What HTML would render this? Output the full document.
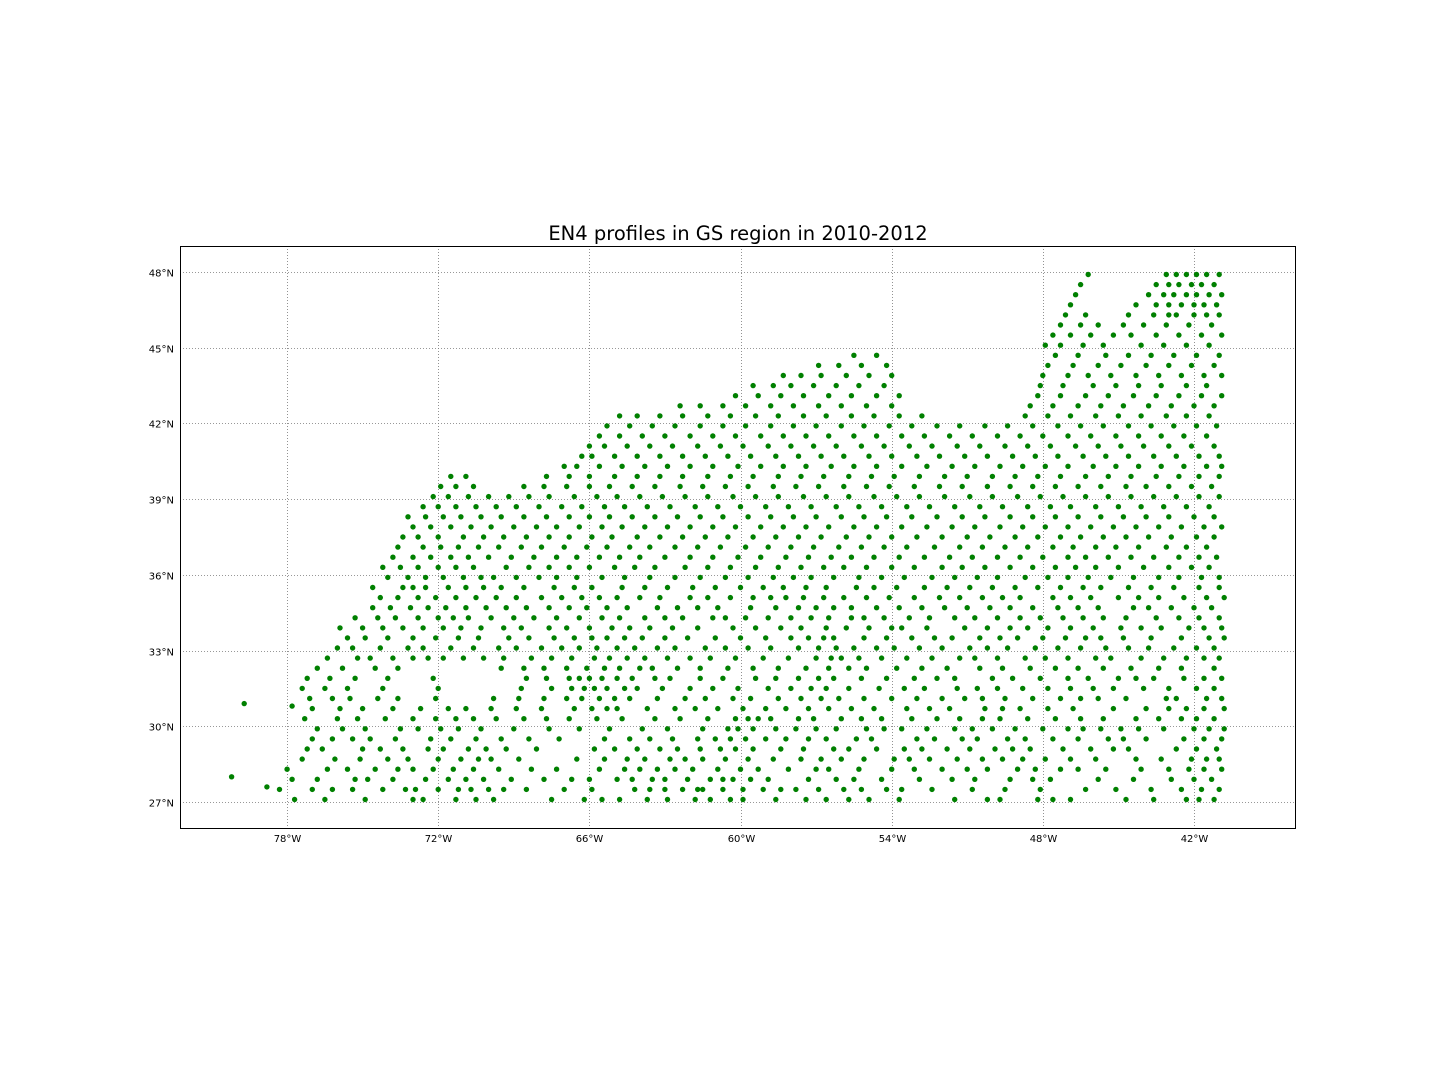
<!DOCTYPE html>
<html><head><meta charset="utf-8">
<style>
html,body{margin:0;padding:0;background:#fff;}
svg{display:block;font-family:"DejaVu Sans","Liberation Sans",sans-serif;}
</style></head>
<body>
<svg id="chart" width="1440" height="1080" xmlns="http://www.w3.org/2000/svg">
<rect width="1440" height="1080" fill="#fff"/>
<text x="738" y="240" text-anchor="middle" font-size="19.5" fill="#000">EN4 profiles in GS region in 2010-2012</text>
<g id="grid"></g>
<g id="pts"></g>
<rect x="180.5" y="246.5" width="1115" height="582" fill="none" stroke="#000" stroke-width="1"/>
<g id="ticks"></g>
</svg>
<script>
const xTickValues=[-78,-72,-66,-60,-54,-48,-42];
const xTickLabels=["78°W","72°W","66°W","60°W","54°W","48°W","42°W"];
const yTickValues=[27,30,33,36,39,42,45,48];
const yTickLabels=["27°N","30°N","33°N","36°N","39°N","42°N","45°N","48°N"];
const outlierLon=[-80.2,-79.7,-77.8,-78.8];
const outlierLat=[28.0,30.9,30.8,27.6];
const bandLat=[27.1,27.5,27.9,28.3,28.7,29.1,29.5,29.9,30.3,30.7,31.1,31.5,31.9,32.3,32.7,33.1,33.5,33.9,34.3,34.7,35.1,35.5,35.9,36.3,36.7,37.1,37.5,37.9,38.3,38.7,39.1,39.5,39.9,40.3,40.7,41.1,41.5,41.9,42.3,42.7,43.1,43.5,43.9,44.3,44.7,45.1,45.5,45.9,46.3,46.7,47.1,47.5,47.9];
const bandLonW=[
[77.7,76.5,74.9,73.0,72.6,71.3,70.5,69.8,67.5,66.2,65.5,64.8,63.7,62.9,61.8,61.2,60.4,59.9,58.6,57.4,56.6,55.7,54.9,53.7,51.5,50.2,49.7,48.2,47.6,46.9,44.7,43.6,42.3,41.8,41.2],
[78.3,77.0,76.2,75.4,74.2,73.3,72.9,72.0,71.2,70.7,70.0,69.4,68.5,67.0,65.9,64.2,63.6,63.0,62.3,61.7,61.5,60.7,59.9,59.1,58.4,57.8,56.9,55.9,55.2,54.2,53.6,52.4,50.8,49.5,48.1,46.3,45.1,43.7,42.5,41.7,41.0],
[77.8,76.8,75.3,74.8,73.8,72.5,71.6,70.9,70.2,69.1,67.8,66.7,66.0,64.9,64.3,63.5,63.0,62.1,61.2,60.7,60.3,59.6,58.9,57.3,56.2,55.5,54.4,52.9,51.6,50.7,49.3,48.4,47.7,45.8,44.4,42.9,42.0,41.3],
[78.0,76.4,75.6,74.5,73.6,73.0,72.2,71.4,70.6,69.6,68.3,67.3,65.6,64.6,64.0,63.3,62.6,61.9,60.9,60.0,59.3,58.1,57.0,56.5,55.3,54.0,53.1,52.0,51.0,50.2,49.0,48.3,47.3,46.6,45.5,44.1,43.0,42.2,41.6,40.9],
[77.4,76.1,75.1,74.0,73.2,72.0,71.1,70.4,69.9,68.8,66.5,65.4,64.5,63.8,62.8,62.2,61.5,60.6,59.7,58.7,57.6,56.8,56.0,55.1,53.9,53.3,52.5,51.4,50.4,49.6,48.8,47.9,46.9,45.9,44.3,43.3,42.1,41.5,41.0],
[77.2,76.6,75.0,74.3,73.4,72.4,71.8,70.8,70.1,69.3,68.1,65.8,65.0,64.1,63.2,62.5,61.6,60.8,60.2,59.5,58.4,57.5,56.3,55.7,54.6,53.5,52.8,51.8,50.9,49.9,49.2,48.5,47.2,46.1,45.2,44.6,42.7,41.9,41.1],
[77.0,76.2,75.4,74.7,73.7,72.3,71.5,70.5,69.5,68.4,67.2,65.4,64.4,63.6,62.7,61.7,61.0,60.4,59.8,59.0,58.2,57.3,56.6,55.4,54.8,53.0,52.3,51.2,50.6,49.4,48.7,47.6,46.6,45.4,44.8,43.9,42.4,41.6,40.9],
[76.8,75.8,74.9,73.5,72.8,71.9,71.2,70.3,69.0,67.6,66.4,65.2,63.9,62.9,61.5,60.5,60.1,59.5,58.6,57.8,57.0,56.2,55.0,54.3,53.6,52.6,51.5,50.8,50.0,49.1,48.0,47.0,46.4,45.7,44.9,44.2,43.2,42.0,41.4,40.8],
[77.3,76.0,75.2,74.1,73.0,72.1,71.3,70.6,69.7,68.6,67.7,66.8,65.7,64.7,63.4,62.4,61.3,60.2,59.7,59.3,58.8,57.7,57.1,56.0,55.2,54.4,53.2,52.2,51.3,50.4,49.7,48.6,47.5,46.5,45.6,44.3,43.4,42.5,41.9,41.2],
[77.0,75.9,75.0,73.8,72.7,71.6,70.9,69.9,68.9,67.9,66.6,65.9,65.3,64.9,63.7,62.6,61.8,60.9,59.9,59.0,58.2,57.3,56.5,55.6,54.7,53.4,52.5,51.7,50.3,49.6,48.9,47.8,46.8,45.2,43.9,43.0,42.3,41.6,40.8],
[77.1,76.2,75.5,74.4,73.6,72.1,69.8,68.8,67.8,66.9,66.3,65.6,65.0,64.4,63.3,62.2,61.4,60.3,59.6,58.5,57.6,56.8,56.1,55.1,54.0,53.0,52.0,51.1,50.4,49.5,48.4,47.3,46.5,45.8,44.7,43.1,42.7,41.5,40.9],
[77.4,76.5,75.6,74.2,72.0,68.7,67.5,66.7,66.2,65.8,65.3,64.6,64.1,63.1,62.0,61.1,60.1,58.9,58.0,57.2,56.6,55.7,54.5,53.5,52.7,51.4,50.6,49.8,48.8,47.8,46.9,46.0,45.2,44.0,43.0,41.9,41.2],
[77.2,76.3,75.3,74.0,72.2,68.5,67.7,66.8,66.4,66.0,65.5,64.9,64.3,63.4,62.8,61.6,60.7,59.4,58.6,57.7,56.9,56.3,55.2,54.2,53.1,52.2,51.5,50.0,49.2,48.1,47.0,46.2,45.0,44.3,43.6,42.4,41.6,40.9],
[76.8,75.8,74.5,73.6,69.5,68.6,67.8,66.9,66.1,65.4,64.8,64.0,63.5,62.5,61.6,60.5,59.5,58.5,57.4,56.5,55.7,55.0,53.8,52.8,51.8,50.5,49.6,48.5,47.5,46.6,45.6,44.5,43.4,42.5,41.2],
[76.4,75.2,74.7,73.8,73.0,72.4,71.8,71.0,70.2,69.4,68.3,67.5,66.7,65.8,65.2,64.5,63.8,62.9,62.0,61.2,60.2,59.1,58.1,57.0,56.4,56.0,55.3,54.4,53.4,52.4,51.3,50.7,49.8,48.7,47.9,47.0,45.9,45.3,44.1,43.2,42.3,41.6,41.0],
[76.0,75.4,74.3,73.2,72.6,71.5,70.6,69.6,68.9,67.9,67.1,66.4,65.7,64.9,64.2,63.3,62.6,61.4,60.6,59.7,58.8,57.7,56.9,56.2,55.5,54.6,53.9,52.9,52.0,50.9,50.2,49.4,48.3,47.4,46.5,45.5,44.6,43.8,42.8,41.9,41.2],
[75.6,74.9,74.0,73.0,72.1,71.2,70.4,69.2,68.4,67.4,66.6,65.9,65.3,64.6,63.9,63.0,62.1,61.0,60.0,59.0,58.0,57.3,56.7,56.3,55.1,54.2,53.2,52.3,51.6,50.5,49.7,49.0,48.0,47.1,46.3,45.7,44.8,43.7,42.5,41.4,40.8],
[75.9,75.0,74.2,73.4,72.6,71.8,71.1,70.3,69.4,68.7,67.6,66.9,66.0,65.1,64.4,63.6,62.7,61.7,60.3,59.4,58.4,57.6,56.6,55.8,54.9,54.0,53.6,52.6,51.1,50.2,49.3,48.6,47.8,46.9,46.0,44.9,44.1,43.3,42.2,41.6,40.9],
[75.3,74.4,73.7,72.8,72.0,71.4,70.8,69.9,69.0,68.2,67.3,66.4,65.5,64.8,63.8,63.0,62.3,61.1,60.6,59.8,58.9,58.0,57.2,56.5,55.6,55.1,54.3,53.3,52.5,51.5,50.7,49.8,48.9,48.1,47.2,46.4,45.6,44.7,43.5,42.6,41.8,41.0],
[74.6,73.9,73.1,72.4,71.7,70.9,70.1,69.3,68.5,67.6,66.8,66.1,65.3,64.5,63.3,62.5,61.7,60.9,59.6,58.6,57.7,57.0,56.3,55.6,54.6,53.7,52.8,51.9,51.0,50.1,49.3,48.4,47.4,46.6,45.8,44.4,43.8,42.9,42.0,41.3],
[74.3,73.6,72.8,72.1,71.3,70.5,69.7,68.9,67.9,67.1,66.3,65.6,64.9,64.0,63.2,62.0,61.3,60.4,59.5,58.8,58.2,57.5,56.7,55.9,55.0,54.1,53.1,52.1,51.3,50.4,49.6,48.9,47.6,46.9,46.1,45.0,44.2,43.4,42.4,41.5,40.8],
[74.6,73.4,73.0,72.5,71.6,70.9,70.2,69.5,68.6,67.4,66.6,65.9,64.7,63.8,62.9,61.9,61.0,60.0,59.1,58.3,57.4,56.6,55.4,54.7,53.8,52.7,51.8,50.9,50.0,49.1,48.2,47.3,46.4,45.7,44.6,43.7,42.8,41.8,41.0],
[74.0,73.2,72.5,71.8,71.0,70.3,69.8,68.9,68.0,67.3,66.5,65.5,64.6,63.6,62.6,61.6,60.6,59.7,58.7,57.9,57.2,56.3,55.3,54.4,53.5,52.4,51.5,50.6,49.8,48.7,47.8,47.0,46.2,45.3,44.4,43.4,42.6,41.7,41.0],
[74.2,73.5,72.8,72.0,71.3,70.6,69.3,68.4,67.6,66.8,66.0,65.0,64.2,63.4,62.2,61.3,60.4,59.4,58.5,57.6,56.7,55.9,55.0,54.0,53.1,52.0,51.2,50.3,49.3,48.4,47.5,46.7,45.9,45.0,44.0,43.0,42.1,41.4],
[73.8,73.0,72.3,71.5,70.8,70.0,69.1,68.2,67.3,66.5,65.6,64.8,64.0,63.0,62.0,61.1,60.1,59.2,58.2,57.3,56.4,55.6,54.7,53.7,52.7,51.7,50.8,49.8,48.9,48.0,47.0,46.3,45.4,44.5,43.6,42.6,41.8,41.1],
[73.6,72.6,71.9,71.2,70.4,69.6,68.7,67.9,67.0,66.1,65.3,64.4,63.6,62.6,61.7,60.8,59.8,58.9,58.0,57.1,56.1,55.2,54.3,53.4,52.3,51.3,50.4,49.5,48.6,47.6,46.8,45.9,45.1,44.2,43.1,42.3,41.5],
[73.4,72.8,72.0,71.0,70.2,69.4,68.5,67.6,66.8,65.9,65.1,64.1,63.2,62.3,61.4,60.5,59.5,58.6,57.7,56.8,55.8,54.9,54.0,53.0,52.0,51.0,50.1,49.1,48.2,47.3,46.5,45.6,44.7,43.8,42.9,41.9,41.2],
[73.0,72.3,71.5,70.7,69.9,69.0,68.1,67.3,66.4,65.5,64.7,63.8,62.9,62.0,61.1,60.2,59.2,58.3,57.4,56.5,55.5,54.6,53.6,52.6,51.6,50.7,49.7,48.8,47.9,47.0,46.1,45.2,44.3,43.4,42.5,41.6,40.9],
[73.2,72.5,71.8,71.1,70.3,69.5,68.6,67.7,66.8,66.0,65.2,64.3,63.4,62.5,61.6,60.7,59.7,58.8,57.9,57.0,56.0,55.1,54.2,53.2,52.2,51.2,50.3,49.3,48.4,47.5,46.6,45.7,44.8,43.9,43.0,42.0,41.2],
[72.6,72.0,71.3,70.5,69.7,68.9,68.0,67.1,66.3,65.4,64.6,63.7,62.8,61.8,60.9,60.0,59.0,58.1,57.2,56.2,55.3,54.4,53.4,52.5,51.5,50.5,49.6,48.6,47.7,46.9,45.9,45.0,44.1,43.2,42.3,41.4],
[72.2,71.6,70.8,70.0,69.2,68.4,67.6,66.6,65.7,64.9,64.0,63.1,62.2,61.3,60.3,59.4,58.5,57.5,56.6,55.7,54.7,53.8,52.9,51.9,50.9,50.0,49.0,48.1,47.2,46.3,45.4,44.5,43.6,42.7,41.8,41.0],
[71.9,71.3,70.6,68.6,67.8,66.9,66.0,65.2,64.3,63.4,62.4,61.5,60.6,59.7,58.7,57.8,56.9,55.9,55.0,54.1,53.1,52.1,51.2,50.2,49.3,48.4,47.5,46.6,45.7,44.7,43.9,43.0,42.1,41.3],
[71.5,70.9,67.7,66.8,66.0,65.0,64.1,63.2,62.3,61.3,60.4,59.5,58.5,57.6,56.7,55.7,54.8,53.9,52.9,51.9,51.0,50.0,49.1,48.2,47.3,46.3,45.4,44.5,43.5,42.6,41.8,41.0],
[67.0,66.5,65.6,64.7,63.8,62.9,62.0,61.1,60.1,59.2,58.3,57.4,56.4,55.5,54.6,53.6,52.6,51.6,50.7,49.7,48.8,47.9,47.0,46.0,45.1,44.2,43.3,42.4,41.5,40.9],
[66.3,65.9,65.0,64.1,63.2,62.3,61.4,60.5,59.6,58.6,57.7,56.8,55.9,54.9,54.0,53.0,52.1,51.1,50.2,49.2,48.3,47.4,46.4,45.5,44.6,43.6,42.7,41.8,41.0],
[66.0,65.4,64.5,63.6,62.7,61.7,60.8,59.9,58.9,58.0,57.1,56.2,55.2,54.3,53.3,52.4,51.4,50.5,49.5,48.6,47.7,46.7,45.8,44.9,44.0,43.0,42.1,41.2],
[65.6,64.8,63.9,63.0,62.0,61.1,60.2,59.2,58.3,57.4,56.5,55.5,54.6,53.6,52.7,51.7,50.8,49.8,48.9,48.0,47.0,46.1,45.1,44.2,43.3,42.4,41.5],
[65.3,64.4,63.5,62.6,61.6,60.7,59.8,58.8,57.9,57.0,56.0,55.1,54.1,53.2,52.2,51.3,50.3,49.4,48.4,47.4,46.5,45.6,44.6,43.7,42.8,41.9,41.1],
[64.8,64.1,63.2,62.3,61.3,60.4,59.4,58.5,57.5,56.6,55.6,54.7,53.7,52.8,48.7,47.8,46.9,45.9,45.0,44.1,43.1,42.3,41.4],
[62.4,61.6,60.7,59.8,58.8,57.9,56.9,56.0,55.0,54.0,48.5,47.6,46.6,45.7,44.8,43.8,42.9,42.0,41.2],
[60.2,59.3,58.4,57.5,56.5,55.6,54.6,53.7,48.2,47.3,46.3,45.4,44.4,43.5,42.6,41.7,40.9],
[59.5,58.7,58.0,57.1,56.2,55.3,54.3,48.1,47.2,46.0,45.1,44.2,43.3,42.3,41.5],
[58.3,57.6,56.8,55.8,54.9,54.0,48.0,47.0,46.2,45.3,44.3,43.4,42.5,41.6,40.9],
[56.9,56.1,55.2,54.2,47.8,46.8,45.8,44.9,43.9,43.0,42.1,41.2],
[55.5,54.6,47.5,46.6,45.5,44.6,43.7,42.8,41.9,41.0],
[47.9,47.3,46.4,45.6,44.1,43.2,42.3,41.4],
[47.6,46.9,46.1,45.2,44.5,43.5,42.6,41.7,40.9],
[47.3,46.5,45.8,44.8,44.0,43.1,42.2,41.3],
[47.1,46.3,44.6,43.6,43.0,42.7,42.0,41.5,41.0],
[46.9,44.3,43.5,43.0,42.5,42.0,41.6,41.1],
[46.7,43.8,43.2,42.8,42.3,41.9,41.4,40.9],
[46.5,43.5,43.0,42.6,42.1,41.7,41.2],
[46.2,43.1,42.7,42.3,41.9,41.5,41.0]
];

const NS="http://www.w3.org/2000/svg";
const X0=180,X1=1296,Y0=246,Y1=829;
const lonMin=-82.25,lonMax=-37.95,latMin=25.93,latMax=49.03;
function xScale(lon){return X0+(lon-lonMin)/(lonMax-lonMin)*(X1-X0);}
function yScale(lat){return Y1-(lat-latMin)/(latMax-latMin)*(Y1-Y0);}

const grid=document.getElementById('grid');
const ticks=document.getElementById('ticks');
xTickValues.forEach((v,i)=>{
  const x=Math.round(xScale(v))+0.5;
  const l=document.createElementNS(NS,'line');
  
  
  l.setAttribute('x1',x);l.setAttribute('x2',x);l.setAttribute('y1',Y0);l.setAttribute('y2',Y1);
  l.setAttribute('stroke','#777');l.setAttribute('stroke-width','0.8');l.setAttribute('stroke-dasharray','1,2');
  grid.appendChild(l);
  const t=document.createElementNS(NS,'text');
  
  
  t.setAttribute('x',x);t.setAttribute('y',842);t.setAttribute('text-anchor','middle');t.setAttribute('font-size','10');
  t.textContent=xTickLabels[i];
  ticks.appendChild(t);
});
yTickValues.forEach((v,i)=>{
  const y=Math.round(yScale(v))+0.5;
  const l=document.createElementNS(NS,'line');
  
  
  l.setAttribute('x1',X0);l.setAttribute('x2',X1);l.setAttribute('y1',y);l.setAttribute('y2',y);
  l.setAttribute('stroke','#777');l.setAttribute('stroke-width','0.8');l.setAttribute('stroke-dasharray','1,2');
  grid.appendChild(l);
  const t=document.createElementNS(NS,'text');
  
  
  t.setAttribute('x',174);t.setAttribute('y',y+4);t.setAttribute('text-anchor','end');t.setAttribute('font-size','10');
  t.textContent=yTickLabels[i];
  ticks.appendChild(t);
});

const pts=document.getElementById('pts');
function addPoint(lon,lat){
  const c=document.createElementNS(NS,'circle');
  
  
  c.setAttribute('cx',xScale(lon).toFixed(1));
  c.setAttribute('cy',yScale(lat).toFixed(1));
  c.setAttribute('r','2.7');
  c.setAttribute('fill','#008000');
  pts.appendChild(c);
}
bandLat.forEach((lat,i)=>{bandLonW[i].forEach(w=>addPoint(-w,lat));});
outlierLon.forEach((lon,i)=>addPoint(lon,outlierLat[i]));
</script>
</body></html>
